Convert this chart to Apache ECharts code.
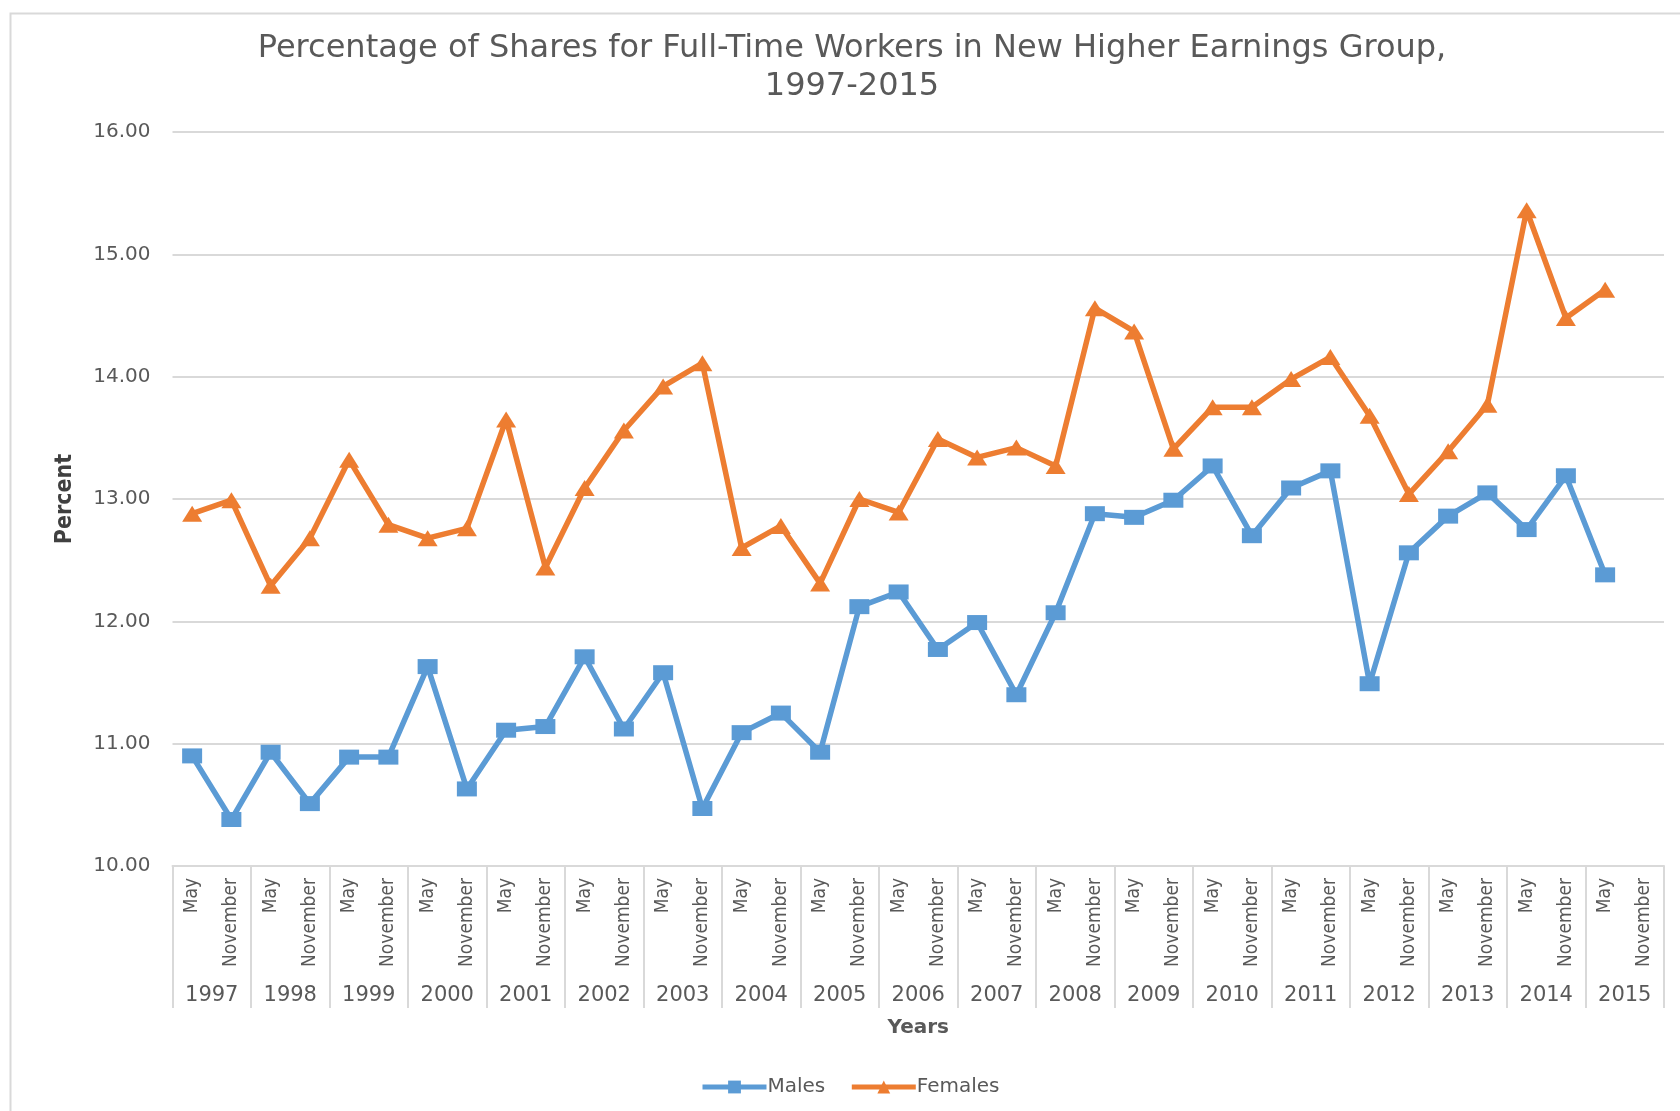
<!DOCTYPE html>
<html>
<head>
<meta charset="utf-8">
<script src="https://cdn.jsdelivr.net/npm/echarts@6/dist/echarts.min.js"></script>
<style>
html,body{margin:0;padding:0;background:#fff;}
#chart{width:1680px;height:1111px;}
</style>
</head>
<body>
<div id="chart"></div>
<script>
const years = ['1997','1998','1999','2000','2001','2002','2003','2004','2005','2006','2007','2008','2009','2010','2011','2012','2013','2014','2015'];
const monthNames = ['May','November'];
const yTicks = [10, 11, 12, 13, 14, 15, 16];
const males = [10.90,10.38,10.93,10.51,10.89,10.89,11.63,10.63,11.11,11.14,11.71,11.12,11.58,10.47,11.09,11.25,10.93,12.12,12.24,11.77,11.99,11.40,12.07,12.88,12.85,12.99,13.27,12.70,13.09,13.23,11.49,12.56,12.86,13.05,12.75,13.19,12.38,null];
const females = [12.88,12.99,12.29,12.68,13.32,12.79,12.68,12.76,13.65,12.44,13.09,13.56,13.92,14.11,12.60,12.78,12.31,13.00,12.89,13.49,13.34,13.42,13.27,14.56,14.37,13.41,13.75,13.75,13.98,14.16,13.68,13.04,13.39,13.77,15.36,14.48,14.71,null];

const months = [];
years.forEach(() => monthNames.forEach(m => months.push(m)));

const chart = echarts.init(document.getElementById('chart'), null, {renderer: 'canvas'});
const gray = '#595959';
const wide = 'DejaVu Sans';
const narrow = '"Liberation Sans Narrow", "DejaVu Sans Condensed", "Roboto Condensed", sans-serif';

chart.setOption({
  animation: false,
  backgroundColor: '#fff',
  graphic: [{
    type: 'rect', left: 8, top: 11,
    shape: {width: 1700, height: 1200},
    style: {fill: 'none', stroke: '#d9d9d9', lineWidth: 2},
    z: -10, silent: true
  }],
  title: {
    text: 'Percentage of Shares for Full-Time Workers in New Higher Earnings Group,\n1997-2015',
    left: 852, top: 30, padding: 0, textAlign: 'center',
    textStyle: {fontFamily: wide, fontWeight: 'normal', fontSize: 32, lineHeight: 38, color: gray}
  },
  legend: {
    left: 695, top: 1072,
    itemWidth: 64, itemHeight: 16, itemGap: 24,
    lineStyle: {width: 5},
    textStyle: {fontFamily: wide, fontSize: 20, color: gray, padding: [0,0,0,-4]},
    data: ['Males', 'Females']
  },
  grid: {left: 172.5, right: 16, top: 132, bottom: 245, containLabel: false},
  xAxis: [{
    type: 'category', data: months, boundaryGap: true,
    axisLine: {lineStyle: {color: '#d9d9d9', width: 2}},
    axisTick: {show: false},
    axisLabel: {interval: 0, rotate: 90, margin: 12, fontFamily: narrow, fontSize: 19, color: gray}
  }, {
    type: 'category', data: years, position: 'bottom', boundaryGap: true,
    axisLine: {show: false},
    axisTick: {show: true, length: 142, lineStyle: {color: '#d9d9d9', width: 2}},
    axisLabel: {interval: 0, margin: 119, fontFamily: wide, fontSize: 21, color: gray},
    name: 'Years', nameLocation: 'middle', nameGap: 152,
    nameTextStyle: {fontFamily: wide, fontWeight: 'bold', fontSize: 20, color: gray}
  }],
  yAxis: {
    type: 'value', min: yTicks[0], max: yTicks[yTicks.length - 1], interval: 1,
    axisLine: {show: false}, axisTick: {show: false},
    axisLabel: {margin: 22, fontFamily: wide, fontSize: 20, color: gray, formatter: v => v.toFixed(2)},
    splitLine: {lineStyle: {color: '#d9d9d9', width: 2}},
    name: 'Percent', nameLocation: 'middle', nameRotate: 90, nameGap: 96,
    nameTextStyle: {fontFamily: narrow, fontWeight: 'bold', fontSize: 23, color: '#404040'}
  },
  series: [{
    name: 'Males', type: 'line', data: males, xAxisIndex: 0,
    symbol: 'rect', symbolSize: [20, 15], showAllSymbol: true,
    lineStyle: {color: '#5b9bd5', width: 5.5},
    itemStyle: {color: '#5b9bd5'}
  }, {
    name: 'Females', type: 'line', data: females, xAxisIndex: 0,
    symbol: 'triangle', symbolSize: [20, 16], showAllSymbol: true,
    lineStyle: {color: '#ed7d31', width: 5.5},
    itemStyle: {color: '#ed7d31'}
  }]
});
</script>
</body>
</html>
